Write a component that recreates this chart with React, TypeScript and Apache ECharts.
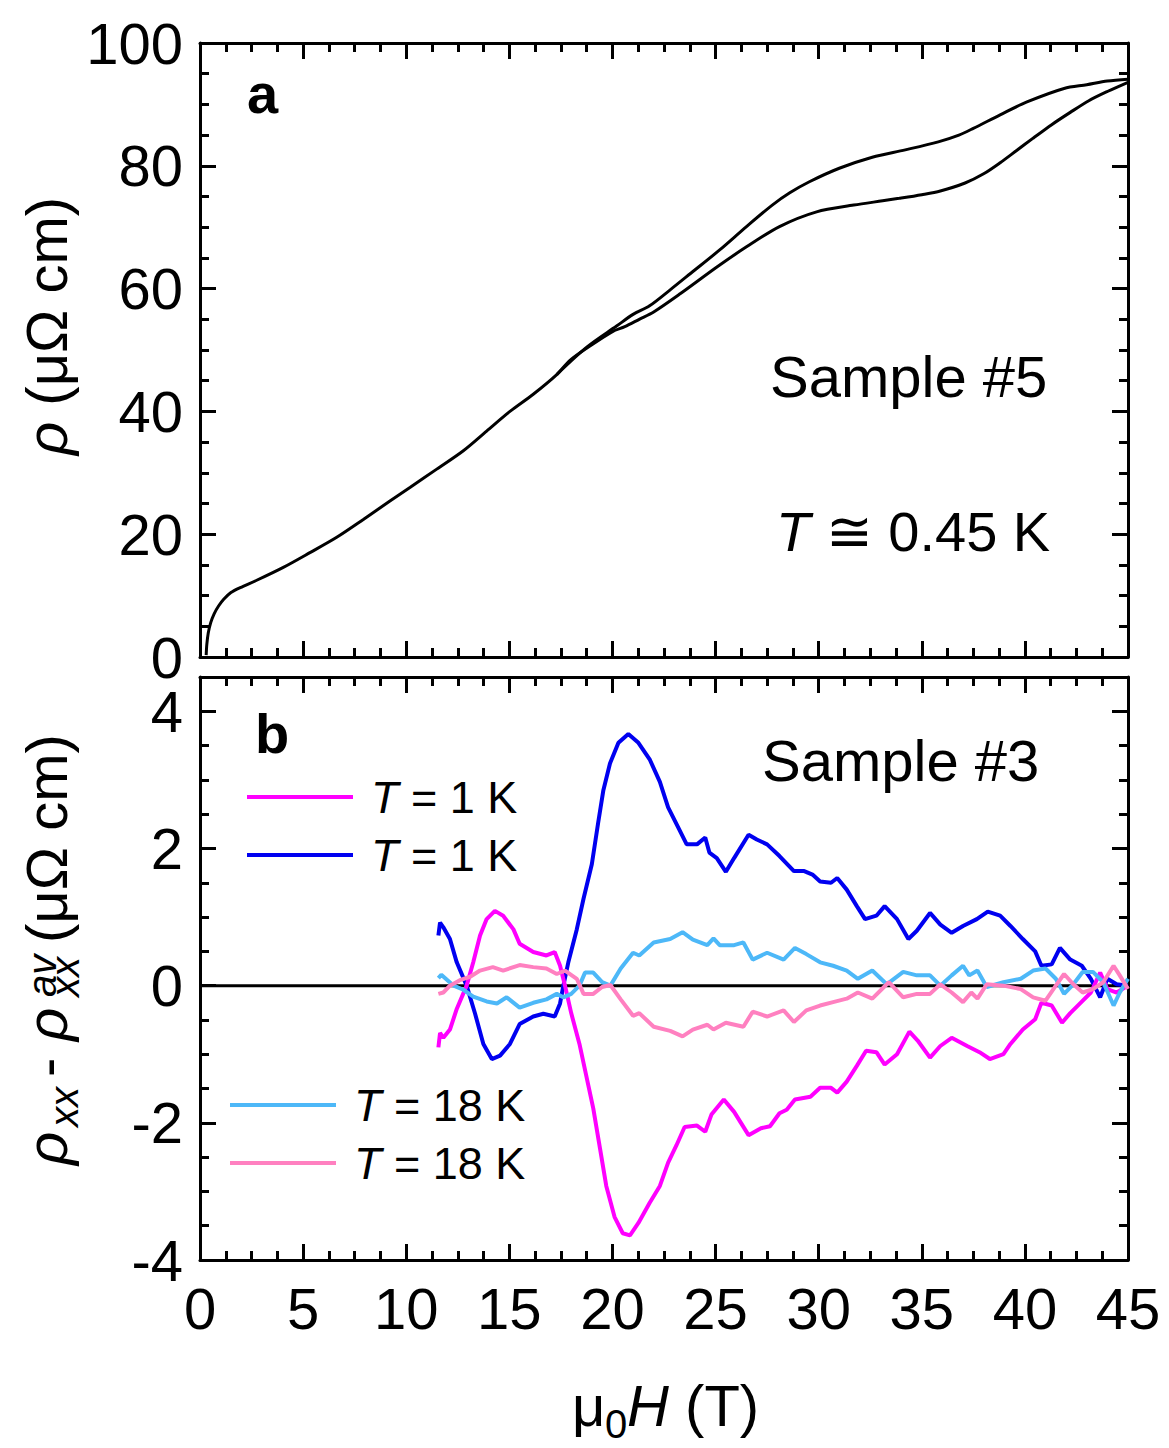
import React, { useEffect, useRef } from "react";
import * as echarts from "echarts";

const FONT = '"Liberation Sans", Arial, Helvetica, sans-serif';

// Panel a: resistivity vs field (two sweep branches)
const rhoLowerBranch: number[][] = [
  [0.3, 0.3], [0.33, 2.0], [0.4, 3.9], [0.52, 5.6], [0.68, 7.0], [0.9, 8.3], [1.15, 9.4], [1.5, 10.5],
  [1.95, 11.3], [2.75, 12.5], [4.04, 14.6], [5.33, 17.0], [6.63, 19.5], [7.92, 22.4], [9.21, 25.4],
  [10.18, 27.6], [11.48, 30.6], [12.77, 33.6], [13.9, 36.8], [15.03, 40.0], [16.16, 42.8], [17.3, 46.0],
  [17.94, 48.3], [18.8, 50.4], [20.0, 53.0], [20.6, 53.8], [21.3, 55.0], [22.0, 56.2], [23.3, 59.2],
  [25.1, 63.6], [26.5, 66.8], [28.1, 70.1], [29.9, 72.5], [31.7, 73.6], [33.1, 74.3], [33.9, 74.7],
  [35.0, 75.3], [35.9, 75.9], [37.1, 77.2], [38.0, 78.7], [38.8, 80.5], [39.6, 82.5], [40.4, 84.5],
  [41.3, 86.7], [42.2, 88.7], [43.1, 90.6], [44.0, 92.1], [45.0, 93.6],
];
const rhoUpperBranch: number[][] = [
  [17.3, 46.0], [18.77, 50.5], [20.2, 53.9], [21.0, 55.8], [21.8, 57.2], [22.8, 59.8], [23.8, 62.5],
  [25.2, 66.3], [26.5, 70.1], [27.75, 73.6], [28.6, 75.6], [29.55, 77.4], [31.0, 79.6], [32.6, 81.4],
  [34.2, 82.6], [35.8, 83.9], [36.8, 85.0], [37.5, 86.1], [38.8, 88.3], [40.1, 90.4], [41.9, 92.6],
  [43.0, 93.2], [44.0, 93.8], [45.0, 94.1],
];

// Panel b: rho_xx - rho_xx^av
const magenta1K: number[][] = [
  [11.56, -0.9], [11.64, -0.69], [11.8, -0.76], [12.12, -0.64], [12.45, -0.34], [12.93, 0], [13.25, 0.34],
  [13.58, 0.73], [13.9, 0.97], [14.3, 1.09], [14.7, 1.02], [15.2, 0.82], [15.5, 0.61], [16.16, 0.49],
  [16.8, 0.44], [17.2, 0.49], [17.46, 0.29], [17.7, 0], [18.0, -0.4], [18.4, -0.85], [18.75, -1.34],
  [19.07, -1.79], [19.4, -2.38], [19.7, -2.92], [20.1, -3.37], [20.5, -3.61], [20.85, -3.64], [21.26, -3.46],
  [21.8, -3.17], [22.3, -2.92], [22.7, -2.58], [23.1, -2.33], [23.5, -2.06], [24.1, -2.04], [24.5, -2.13],
  [24.8, -1.88], [25.4, -1.66], [25.9, -1.84], [26.6, -2.18], [27.2, -2.08], [27.64, -2.05], [28.1, -1.86],
  [28.45, -1.81], [28.85, -1.66], [29.6, -1.62], [30.07, -1.49], [30.6, -1.49], [30.9, -1.56], [31.36, -1.4],
  [31.85, -1.17], [32.3, -0.95], [32.8, -0.97], [33.2, -1.15], [33.8, -1.0], [34.4, -0.67], [34.8, -0.8],
  [35.4, -1.05], [35.9, -0.88], [36.45, -0.76], [37.2, -0.88], [37.8, -0.97], [38.3, -1.07], [38.96, -1.0],
  [39.3, -0.85], [39.9, -0.64], [40.5, -0.49], [40.8, -0.25], [41.3, -0.29], [41.8, -0.54], [42.2, -0.4],
  [42.7, -0.25], [43.2, -0.1], [43.65, 0.19], [44.0, -0.05], [44.45, -0.1], [45.0, 0],
];
const blue1K: number[][] = [
  [11.56, 0.73], [11.64, 0.92], [11.8, 0.85], [12.12, 0.68], [12.45, 0.34], [12.93, 0], [13.34, -0.41],
  [13.74, -0.85], [14.15, -1.07], [14.55, -1.02], [15.03, -0.85], [15.5, -0.56], [16.16, -0.45], [16.65, -0.41],
  [17.2, -0.45], [17.46, -0.26], [17.62, 0], [17.86, 0.34], [18.27, 0.82], [18.6, 1.27], [19.0, 1.77],
  [19.3, 2.36], [19.56, 2.85], [19.88, 3.24], [20.29, 3.54], [20.77, 3.67], [21.26, 3.54], [21.82, 3.29],
  [22.3, 2.97], [22.7, 2.6], [23.2, 2.3], [23.6, 2.06], [24.1, 2.06], [24.5, 2.16], [24.7, 1.94], [25.06, 1.86],
  [25.5, 1.66], [25.9, 1.86], [26.6, 2.2], [27.0, 2.13], [27.5, 2.06], [28.1, 1.89], [28.8, 1.67], [29.3, 1.67],
  [29.7, 1.62], [30.07, 1.52], [30.6, 1.5], [30.9, 1.57], [31.36, 1.4], [31.85, 1.16], [32.25, 0.97],
  [32.8, 1.02], [33.2, 1.16], [33.8, 0.97], [34.35, 0.68], [34.76, 0.8], [35.4, 1.06], [35.9, 0.89],
  [36.45, 0.77], [37.0, 0.87], [37.67, 0.97], [38.2, 1.08], [38.8, 1.02], [39.3, 0.87], [39.9, 0.68],
  [40.5, 0.5], [40.8, 0.29], [41.3, 0.31], [41.7, 0.55], [42.2, 0.38], [42.76, 0.29], [43.2, 0.1],
  [43.65, -0.17], [44.0, 0.1], [44.45, 0.02], [45.0, 0],
];
const lightBlue18K: number[][] = [
  [11.56, 0.11], [11.7, 0.16], [11.96, 0.09], [12.3, 0], [12.77, -0.06], [13.25, -0.16], [13.9, -0.23],
  [14.4, -0.26], [14.87, -0.17], [15.5, -0.32], [16.16, -0.25], [16.8, -0.2], [17.3, -0.12], [17.62, -0.17],
  [18.0, -0.12], [18.4, 0], [18.67, 0.19], [19.07, 0.19], [19.5, 0.05], [19.9, 0], [20.4, 0.25], [21.0, 0.48],
  [21.3, 0.44], [22.0, 0.63], [22.8, 0.68], [23.4, 0.78], [23.9, 0.67], [24.6, 0.59], [24.9, 0.69], [25.2, 0.59],
  [25.9, 0.59], [26.35, 0.63], [26.8, 0.38], [27.5, 0.48], [28.3, 0.38], [28.85, 0.55], [29.4, 0.46],
  [30.07, 0.34], [30.7, 0.29], [31.36, 0.22], [31.9, 0.1], [32.6, 0.22], [33.3, 0.02], [34.1, 0.2],
  [34.76, 0.15], [35.4, 0.15], [35.9, 0], [36.45, 0.15], [37.0, 0.29], [37.3, 0.15], [37.7, 0.22],
  [38.15, -0.02], [38.96, 0.05], [39.8, 0.1], [40.4, 0.22], [41.0, 0.25], [41.5, 0.1], [41.9, -0.12],
  [42.35, 0.02], [42.8, 0.2], [43.3, 0.2], [43.8, 0.05], [44.3, -0.29], [44.6, -0.1], [45.0, 0.1],
];
const pink18K: number[][] = [
  [11.56, -0.12], [11.8, -0.1], [12.12, 0], [12.6, 0.08], [13.1, 0.13], [13.58, 0.22], [14.2, 0.27],
  [14.7, 0.22], [15.5, 0.3], [16.16, 0.27], [16.8, 0.25], [17.3, 0.17], [17.7, 0.22], [18.27, 0.1],
  [18.6, -0.12], [19.07, -0.12], [19.5, -0.02], [19.9, 0.01], [20.4, -0.2], [21.0, -0.44], [21.3, -0.4],
  [22.0, -0.6], [22.8, -0.66], [23.4, -0.74], [23.9, -0.64], [24.6, -0.57], [24.9, -0.64], [25.5, -0.54],
  [26.35, -0.6], [26.8, -0.38], [27.5, -0.45], [28.3, -0.36], [28.8, -0.53], [29.4, -0.36], [30.07, -0.29],
  [30.7, -0.24], [31.36, -0.19], [31.9, -0.1], [32.6, -0.19], [33.4, 0.05], [34.1, -0.17], [34.76, -0.12],
  [35.4, -0.12], [35.9, 0.02], [36.45, -0.1], [37.0, -0.24], [37.4, -0.1], [37.7, -0.19], [38.15, 0.02],
  [38.96, 0], [39.8, -0.05], [40.4, -0.17], [41.0, -0.22], [41.5, 0], [41.9, 0.17], [42.35, 0.02],
  [42.8, -0.1], [43.3, -0.05], [43.8, 0.05], [44.3, 0.29], [44.6, 0.15], [45.0, -0.05],
];
const zeroLine: number[][] = [[0, 0], [45, 0]];

const xTickValues = [0, 5, 10, 15, 20, 25, 30, 35, 40, 45];
const legendLabels: Record<string, string> = {
  "T = 1 K (a)": "{i|T} = 1 K",
  "T = 1 K (b)": "{i|T} = 1 K",
  "T = 18 K (a)": "{i|T} = 18 K",
  "T = 18 K (b)": "{i|T} = 18 K",
};

const black = "#000";
const lineW = 3;

function xAxis(gridIndex: number, position: string, labels: boolean) {
  return {
    type: "value", gridIndex, position, min: xTickValues[0], max: xTickValues[xTickValues.length - 1], interval: 5,
    axisLine: { show: true, onZero: false, lineStyle: { color: black, width: lineW } },
    axisTick: { show: true, inside: true, length: 16, lineStyle: { color: black, width: lineW } },
    minorTick: { show: true, splitNumber: 4, length: 9, lineStyle: { color: black, width: lineW } },
    splitLine: { show: false }, minorSplitLine: { show: false },
    axisLabel: labels ? { show: true, margin: 26, fontSize: 58, lineHeight: 44, fontFamily: FONT, color: black } : { show: false },
  };
}

function yAxis(gridIndex: number, position: string, min: number, max: number, interval: number,
  opts: { labels?: boolean; minor?: number; tickLen?: number; line?: boolean; fmt?: (v: number) => string; hideMax?: boolean }) {
  return {
    type: "value", gridIndex, position, min, max, interval,
    axisLine: { show: opts.line !== false, onZero: false, lineStyle: { color: black, width: lineW } },
    axisTick: { show: true, inside: true, length: opts.tickLen ?? 16, lineStyle: { color: black, width: lineW } },
    minorTick: opts.minor ? { show: true, splitNumber: opts.minor, length: 9, lineStyle: { color: black, width: lineW } } : { show: false },
    splitLine: { show: false }, minorSplitLine: { show: false },
    axisLabel: opts.labels
      ? { show: true, margin: 17, fontSize: 58, lineHeight: 44, fontFamily: FONT, color: black, formatter: opts.fmt,
          showMaxLabel: opts.hideMax ? false : undefined }
      : { show: false },
  };
}

const bFmt = (v: number) => (Math.abs(v % 2) < 1e-9 ? String(v) : "");

function txt(x: number, y: number, text: string, size: number, extra: any = {}) {
  return {
    type: "text", x, y,
    style: {
      text, fill: black, fontSize: size, fontFamily: FONT, align: "left", verticalAlign: "middle",
      lineHeight: Math.round(size * 0.7), ...extra,
    },
  };
}

const option: any = {
  animation: false,
  backgroundColor: "#fff",
  grid: [
    { left: 200, top: 43, width: 928, height: 614 },
    { left: 200, top: 677, width: 928, height: 583 },
  ],
  xAxis: [
    xAxis(0, "bottom", false),
    xAxis(0, "top", false),
    xAxis(1, "bottom", true),
    xAxis(1, "top", false),
  ],
  yAxis: [
    yAxis(0, "left", 0, 100, 20, { labels: true, minor: 4 }),
    yAxis(0, "right", 0, 100, 20, { minor: 4 }),
    yAxis(1, "left", -4, 4.5, 2, { labels: true, fmt: bFmt, hideMax: true }),
    yAxis(1, "right", -4, 4.5, 2, {}),
    yAxis(1, "left", -4, 4.5, 0.5, { tickLen: 9, line: false }),
    yAxis(1, "right", -4, 4.5, 0.5, { tickLen: 9, line: false }),
  ],
  legend: [
    {
      left: 247, top: 768, orient: "vertical", padding: 0, itemGap: 0, itemWidth: 106, itemHeight: 4, icon: "rect",
      data: ["T = 1 K (a)", "T = 1 K (b)"], selectedMode: false,
      formatter: (n: string) => legendLabels[n],
      textStyle: { fontSize: 45, fontFamily: FONT, color: black, lineHeight: 58, padding: [0, 0, 0, 13],
        rich: { i: { fontStyle: "italic", fontSize: 45, fontFamily: FONT, lineHeight: 58 } } },
    },
    {
      left: 230, top: 1076, orient: "vertical", padding: 0, itemGap: 0, itemWidth: 106, itemHeight: 4, icon: "rect",
      data: ["T = 18 K (a)", "T = 18 K (b)"], selectedMode: false,
      formatter: (n: string) => legendLabels[n],
      textStyle: { fontSize: 45, fontFamily: FONT, color: black, lineHeight: 58, padding: [0, 0, 0, 13],
        rich: { i: { fontStyle: "italic", fontSize: 45, fontFamily: FONT, lineHeight: 58 } } },
    },
  ],
  series: [
    { name: "up sweep", type: "line", xAxisIndex: 0, yAxisIndex: 0, data: rhoLowerBranch, symbol: "none", smooth: 0.3,
      lineStyle: { color: black, width: 3 }, itemStyle: { color: black }, silent: true },
    { name: "down sweep", type: "line", xAxisIndex: 0, yAxisIndex: 0, data: rhoUpperBranch, symbol: "none", smooth: 0.3,
      lineStyle: { color: black, width: 3 }, itemStyle: { color: black }, silent: true },
    { name: "zero", type: "line", xAxisIndex: 2, yAxisIndex: 2, data: zeroLine, symbol: "none",
      lineStyle: { color: black, width: 3 }, itemStyle: { color: black }, silent: true },
    { name: "T = 1 K (b)", type: "line", xAxisIndex: 2, yAxisIndex: 2, data: blue1K, symbol: "none",
      lineStyle: { color: "#0000f0", width: 4 }, itemStyle: { color: "#0000f0" }, silent: true },
    { name: "T = 1 K (a)", type: "line", xAxisIndex: 2, yAxisIndex: 2, data: magenta1K, symbol: "none",
      lineStyle: { color: "#ff00ff", width: 4 }, itemStyle: { color: "#ff00ff" }, silent: true },
    { name: "T = 18 K (a)", type: "line", xAxisIndex: 2, yAxisIndex: 2, data: lightBlue18K, symbol: "none",
      lineStyle: { color: "#4db8f8", width: 4 }, itemStyle: { color: "#4db8f8" }, silent: true },
    { name: "T = 18 K (b)", type: "line", xAxisIndex: 2, yAxisIndex: 2, data: pink18K, symbol: "none",
      lineStyle: { color: "#ff80c0", width: 4 }, itemStyle: { color: "#ff80c0" }, silent: true },
  ],
  graphic: [
    txt(247, 93, "a", 56, { fontWeight: "bold" }),
    txt(255, 733, "b", 56, { fontWeight: "bold" }),
    txt(770, 376, "Sample #5", 58),
    {
      type: "text", x: 776, y: 531,
      style: { text: "{i|T} ≅ 0.45 K", fill: black, fontSize: 56, fontFamily: FONT, align: "left", verticalAlign: "middle",
        lineHeight: 40, rich: { i: { fontStyle: "italic", fontSize: 56, fontFamily: FONT, lineHeight: 40 } } },
    },
    txt(762, 760, "Sample #3", 58),
    // y title, panel a
    {
      type: "group", x: 0, y: 455, rotation: Math.PI / 2,
      children: [
        { type: "text", x: 0, y: 46,
          style: { text: "{i|ρ} (μΩ cm)", fill: black, fontSize: 58, fontFamily: FONT, align: "left", verticalAlign: "middle",
            lineHeight: 40, rich: { i: { fontStyle: "italic", fontSize: 58, fontFamily: FONT, lineHeight: 40 } } } },
      ],
    },
    // y title, panel b
    {
      type: "group", x: 0, y: 1165, rotation: Math.PI / 2,
      children: [
        txt(0, 46, "ρ", 58, { fontStyle: "italic" }),
        txt(38, 64, "xx", 40, { fontStyle: "italic", lineHeight: 18 }),
        txt(88, 46, "-", 58),
        txt(124, 46, "ρ", 58, { fontStyle: "italic" }),
        txt(168, 65, "xx", 40, { fontStyle: "italic", lineHeight: 18 }),
        txt(168, 42, "av", 40, { fontStyle: "italic", lineHeight: 18 }),
        txt(222, 46, "(μΩ cm)", 58),
      ],
    },
    // x title
    txt(572, 1405, "μ", 58),
    txt(605, 1424, "0", 40),
    txt(627, 1405, "H", 58, { fontStyle: "italic" }),
    txt(669, 1405, " (T)", 58),
  ],
};

export default function App() {
  const ref = useRef<HTMLDivElement>(null);
  useEffect(() => {
    const chart = echarts.init(ref.current!, null, { renderer: "svg" });
    chart.setOption(option);
    return () => chart.dispose();
  }, []);
  return (
    <div
      ref={ref}
      style={{ position: "fixed", left: 0, top: 0, width: 1169, height: 1448, background: "#fff" }}
    />
  );
}
